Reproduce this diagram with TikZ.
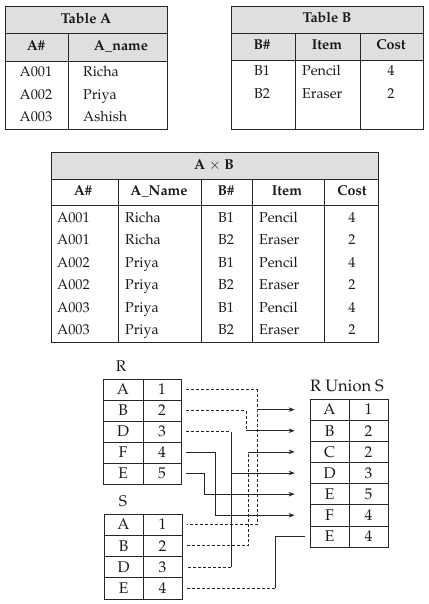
\documentclass[tikz,border=0pt]{standalone}
\usepackage[T1]{fontenc}
\usepackage{mathpazo}
\usetikzlibrary{arrows.meta,calc}
\tikzset{
  tbl/.style={draw=black!85, line width=0.8pt},
  hdr/.style={fill=gray!25},
  txt/.style={font=\fontsize{14.3}{16}\selectfont, inner sep=0pt, text=black!90},
  btxt/.style={font=\fontsize{15.5}{17}\selectfont, inner sep=0pt, text=black!90},
  bt/.style={font=\fontsize{14.3}{16}\selectfont\bfseries, inner sep=0pt, text=black!90},
  cl/.style={txt, anchor=mid},
  lf/.style={txt, anchor=mid west},
  cellR/.style={draw=black!85, line width=0.7pt, btxt, minimum height=21pt},
  cellS/.style={draw=black!85, line width=0.7pt, btxt, minimum height=21.25pt},
  cellU/.style={draw=black!85, line width=0.7pt, btxt, minimum height=21.14pt, minimum width=39pt},
  con/.style={draw=black!85, line width=0.75pt},
  dsh/.style={con, dash pattern=on 3pt off 2pt},
  arr/.style={con, -{Stealth[length=6pt,width=4.5pt]}}
}
\begin{document}
\begin{tikzpicture}[x=1pt,y=-1pt]
\useasboundingbox (0,0) rectangle (428,604);
% ---------- Table A ----------
\fill[hdr] (5,6) rectangle (167,61);
\draw[tbl] (5,6) rectangle (167,129);
\draw[tbl] (5,33) -- (167,33);
\draw[tbl] (5,61) -- (167,61);
\draw[tbl] (68,33) -- (68,129);
\node[bt, anchor=mid] (taT) at (86,21) {Table A};
\node[bt, anchor=mid] (taH1) at (36,48) {A\#};
\node[bt, anchor=mid] (taH2) at (121,48) {A\_name};
\node[cl] (ta11) at (36,74) {A001};
\node[lf] (ta12) at (83,74) {Richa};
\node[cl] (ta21) at (36,97) {A002};
\node[lf] (ta22) at (83,97) {Priya};
\node[cl] (ta31) at (36,119) {A003};
\node[lf] (ta32) at (83,119) {Ashish};
% ---------- Table B ----------
\fill[hdr] (231,6) rectangle (423,60);
\draw[tbl] (231,6) rectangle (423,129);
\draw[tbl] (231,33) -- (423,33);
\draw[tbl] (231,60) -- (423,60);
\draw[tbl] (295,33) -- (295,129);
\draw[tbl] (360,33) -- (360,129);
\node[bt, anchor=mid] (tbT) at (327,20) {Table B};
\node[bt, anchor=mid] (tbH1) at (262,47) {B\#};
\node[bt, anchor=mid] (tbH2) at (327,47) {Item};
\node[bt, anchor=mid] (tbH3) at (391,47) {Cost};
\node[cl] (tb11) at (262,73) {B1};
\node[lf] (tb12) at (302,73) {Pencil};
\node[cl] (tb13) at (391,73) {4};
\node[cl] (tb21) at (262,96) {B2};
\node[lf] (tb22) at (302,96) {Eraser};
\node[cl] (tb23) at (391,96) {2};
% ---------- A x B ----------
\fill[hdr] (51,152) rectangle (378,179);
\draw[tbl] (51,152) rectangle (378,342);
\draw[tbl] (51,179) -- (378,179);
\draw[tbl] (51,205) -- (378,205);
\foreach \xx in {118,201,252,324} \draw[tbl] (\xx,179) -- (\xx,342);
\node[bt, anchor=mid] (abT) at (214,167) {A $\times$ B};
\node[bt, anchor=mid] (abH1) at (83,193) {A\#};
\node[bt, anchor=mid] (abH2) at (159,193) {A\_Name};
\node[bt, anchor=mid] (abH3) at (226,193) {B\#};
\node[bt, anchor=mid] (abH4) at (287,193) {Item};
\node[bt, anchor=mid] (abH5) at (352,193) {Cost};
\foreach \i/\a/\n/\b/\it/\c/\yy in {1/A001/Richa/B1/Pencil/4/220, 2/A001/Richa/B2/Eraser/2/242, 3/A002/Priya/B1/Pencil/4/265, 4/A002/Priya/B2/Eraser/2/287, 5/A003/Priya/B1/Pencil/4/310, 6/A003/Priya/B2/Eraser/2/332}{
  \node[lf] (ab\i a) at (57,\yy) {\a};
  \node[lf] (ab\i b) at (125,\yy) {\n};
  \node[cl] (ab\i c) at (226,\yy) {\b};
  \node[lf] (ab\i d) at (259,\yy) {\it};
  \node[cl] (ab\i e) at (352,\yy) {\c};
}
% ---------- R ----------
\node[btxt, anchor=mid] (Rlab) at (121,369) {R};
\foreach \k/\l/\v [count=\j from 0] in {A/A/1, B/B/2, D/D/3, F/F/4, E/E/5}{
  \node[cellR, minimum width=40pt] (r\k1) at (123,389.5+21*\j) {\l};
  \node[cellR, minimum width=38pt] (r\k2) at (162,389.5+21*\j) {\v};
}
% ---------- S ----------
\node[btxt, anchor=mid] (Slab) at (123,504) {S};
\foreach \k/\l/\v [count=\j from 0] in {A/A/1, B/B/2, D/D/3, E/E/4}{
  \node[cellS, minimum width=39pt] (s\k1) at (123.5,524.6+21.25*\j) {\l};
  \node[cellS, minimum width=39pt] (s\k2) at (162.5,524.6+21.25*\j) {\v};
}
% ---------- R Union S ----------
\node[btxt, anchor=mid, font=\fontsize{16.5}{18}\selectfont] (Ulab) at (347,389) {R Union S};
\foreach \k/\l/\v [count=\j from 0] in {A/A/1, B/B/2, C/C/2, D/D/3, E/E/5, F/F/4, G/E/4}{
  \node[cellU] (u\k1) at (329.5,409.6+21.14*\j) {\l};
  \node[cellU] (u\k2) at (368.5,409.6+21.14*\j) {\v};
}
% ---------- connectors ----------
\coordinate (jA) at (257,0);
\coordinate (jB) at (246,0);
\coordinate (jC) at (248,0);
\coordinate (jD) at (231,0);
\coordinate (jE) at (204,0);
\coordinate (jF) at (215,0);
\coordinate (jG) at (275,0);
% A1
\draw[dsh] ([xshift=5pt]rA2.east) -| (jA |- uA1.west) |- ([xshift=5pt]sA2.east);
\draw[arr] (jA |- uA1.west) -- ([xshift=-15pt]uA1.west);
% B2
\draw[dsh] ([xshift=5pt]rB2.east) -| (jB |- uB1.west);
\draw[arr] (jB |- uB1.west) -- ([xshift=-15pt]uB1.west);
% C2
\draw[dsh] ([xshift=5pt]sB2.east) -| (jC |- uC1.west);
\draw[arr] (jC |- uC1.west) -- ([xshift=-15pt]uC1.west);
% D3
\draw[dsh] ([xshift=5pt]rD2.east) -- (jD |- rD2.east);
\draw[con] (jD |- rD2.east) -- (jD |- sD2.east);
\draw[dsh] (jD |- sD2.east) -- ([xshift=5pt]sD2.east);
\draw[arr] (jD |- uD1.west) -- ([xshift=-15pt]uD1.west);
% E5
\draw[arr] ([xshift=5pt]rE2.east) -| (jE |- uE1.west) -- ([xshift=-15pt]uE1.west);
% F4
\draw[arr] ([xshift=5pt]rF2.east) -| (jF |- uF1.west) -- ([xshift=-15pt]uF1.west);
% E4
\draw[dsh] ([xshift=5pt]sE2.east) -- (jG |- sE2.east);
\draw[con] (jG |- sE2.east) -- (jG |- uG1.west) -- ([xshift=-5pt]uG1.west);
\end{tikzpicture}
\end{document}
